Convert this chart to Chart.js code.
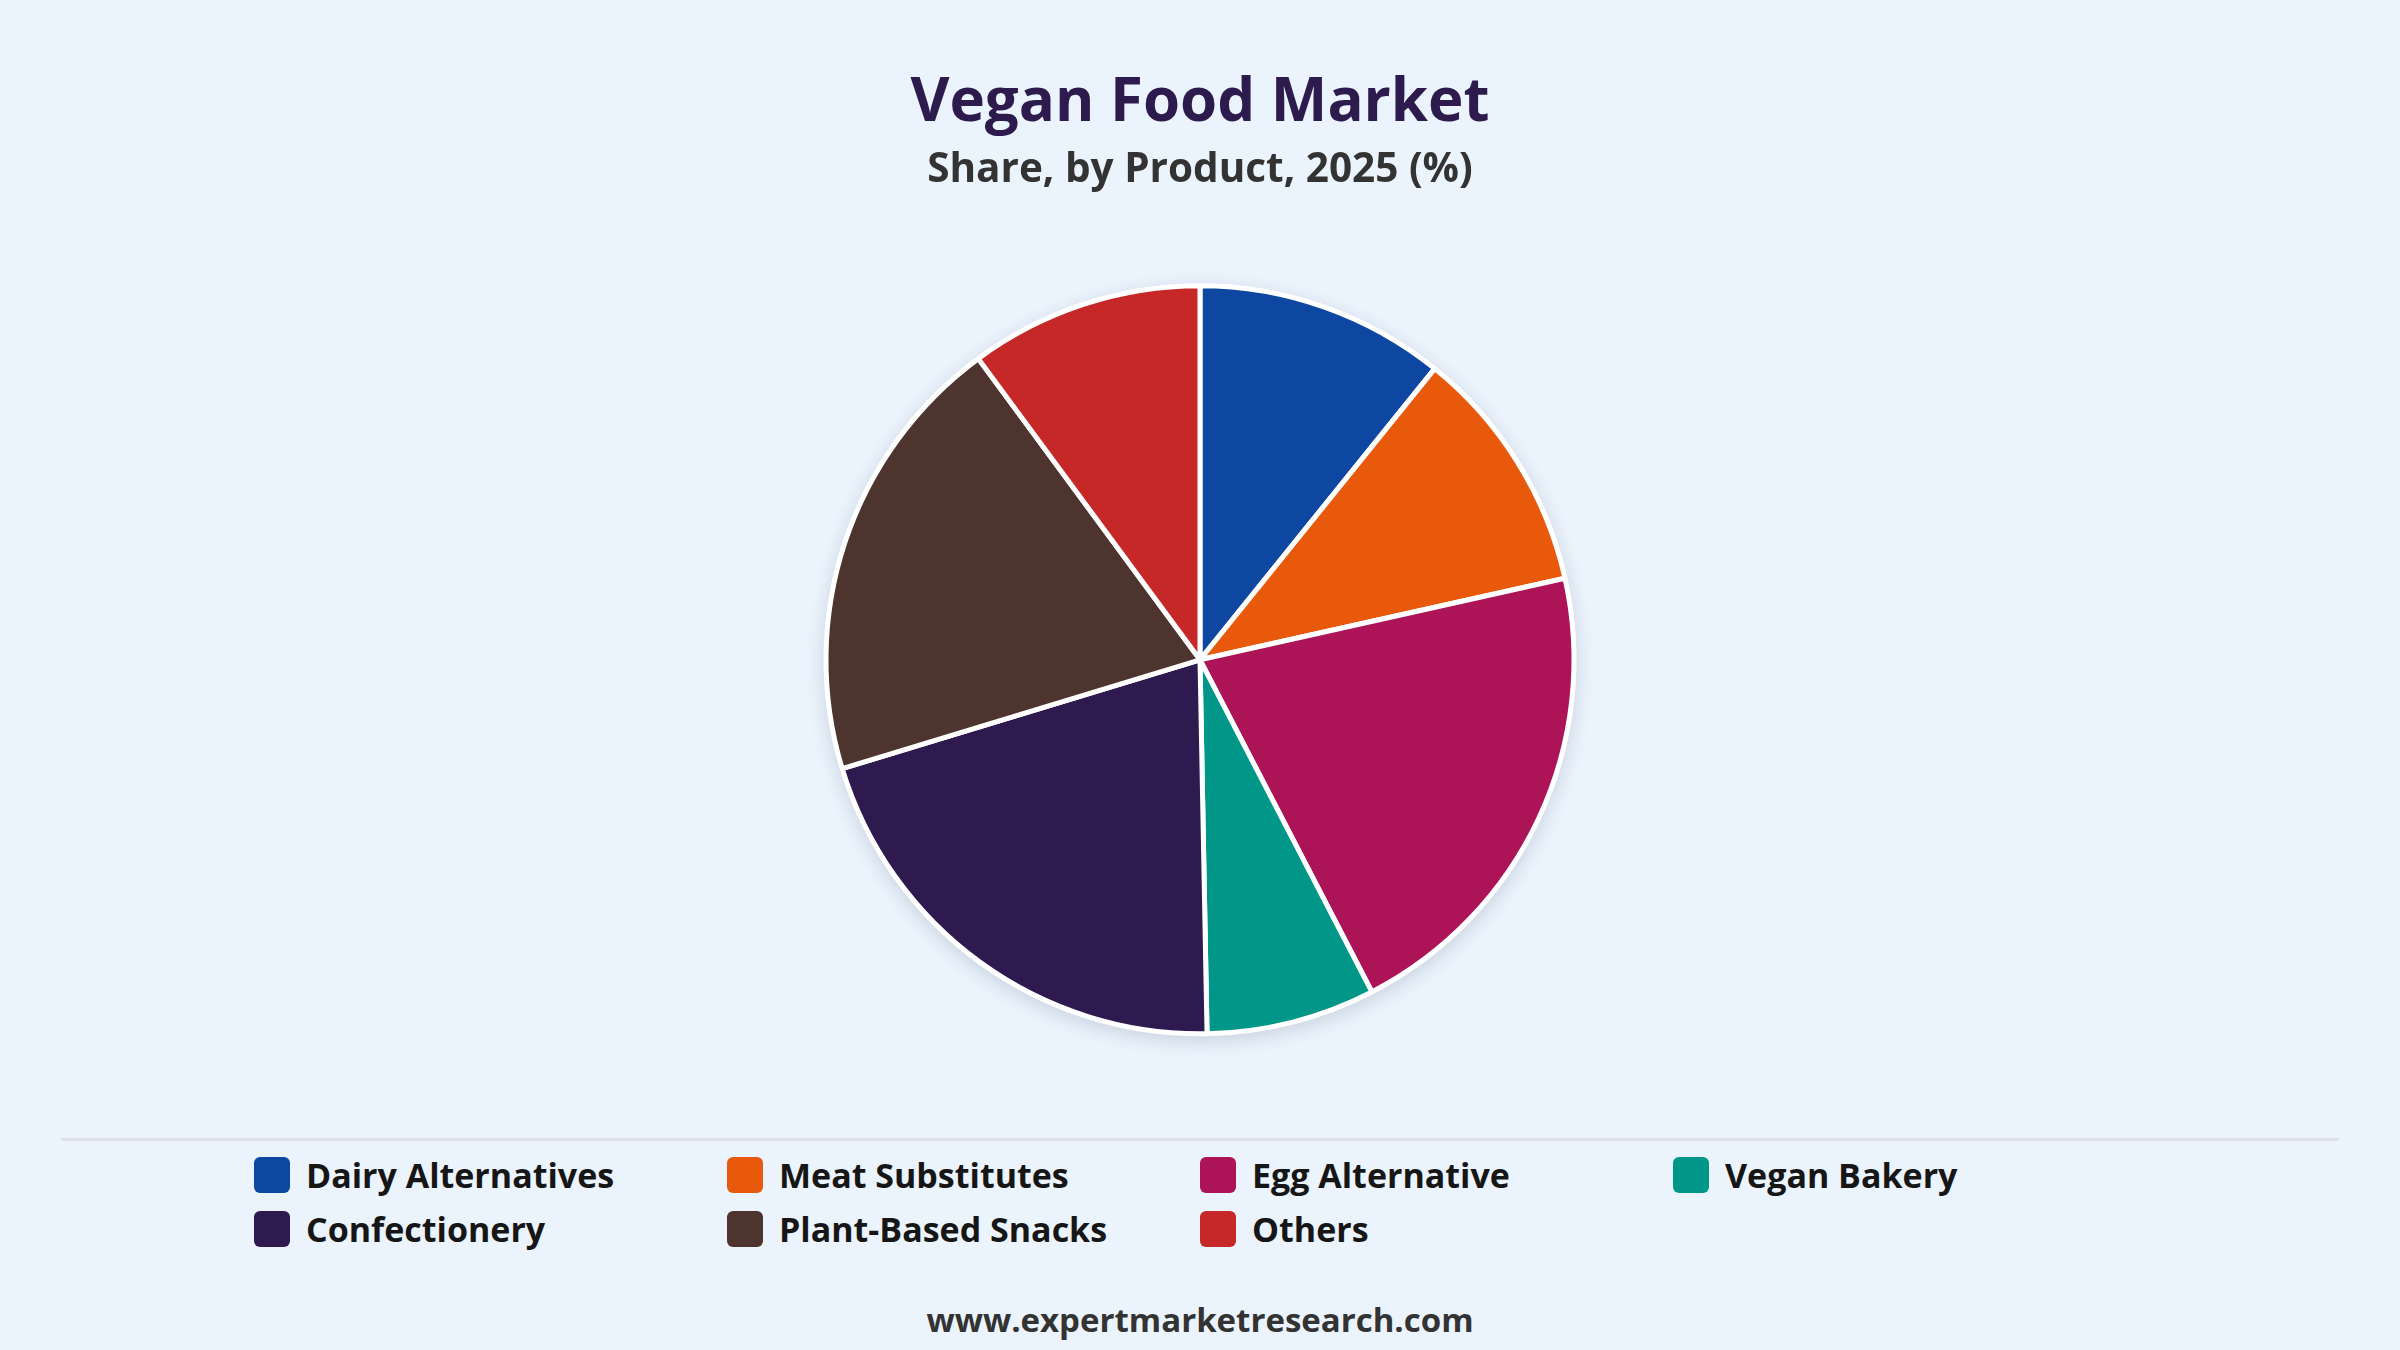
<!DOCTYPE html>
<html>
<head>
<meta charset="utf-8">
<title>Vegan Food Market</title>
<script src="https://cdn.jsdelivr.net/npm/chart.js@4.4.1/dist/chart.umd.min.js"></script>
<style>
  html, body {
    margin: 0;
    padding: 0;
    background: #ebf3fc;
    font-family: "Open Sans", "Noto Sans", sans-serif;
  }
  #page {
    position: relative;
    width: 2400px;
    height: 1350px;
    overflow: hidden;
  }
  #chartBox {
    position: absolute;
    left: 0;
    top: 0;
    width: 2400px;
    height: 1130px;
  }
  #divider {
    position: absolute;
    left: 61px;
    top: 1138px;
    width: 2278px;
    height: 3px;
    background: #dde2e8;
  }
  #legend {
    position: absolute;
    left: 254px;
    top: 1148px;
    display: grid;
    grid-template-columns: repeat(4, 473px);
    grid-auto-rows: 54px;
  }
  .item {
    display: flex;
    align-items: center;
    font-weight: 700;
    font-size: 34px;
    color: #161616;
  }
  .swatch {
    width: 36px;
    height: 36px;
    border-radius: 6px;
    margin-right: 16px;
    flex: none;
  }
  #footer {
    position: absolute;
    left: 0;
    width: 2400px;
    top: 1297px;
    text-align: center;
    font-weight: 700;
    font-size: 33px;
    color: #333333;
  }
</style>
</head>
<body>
<div id="page">
  <div id="chartBox"><canvas id="veganChart"></canvas></div>
  <div id="divider"></div>
  <div id="legend"></div>
  <div id="footer">www.expertmarketresearch.com</div>
</div>
<script>
const products = [
  "Dairy Alternatives",
  "Meat Substitutes",
  "Egg Alternative",
  "Vegan Bakery",
  "Confectionery",
  "Plant-Based Snacks",
  "Others",
];
const shares = [10.8, 10.7, 20.9, 7.3, 20.6, 19.6, 10.1];
const sliceColors = [
  "#0d47a1",
  "#e8590c",
  "#ad1457",
  "#009688",
  "#2e1a4f",
  "#4e342e",
  "#c62828",
];

// soft shadow behind the whole pie, drawn before the slices
const pieShadow = {
  id: "pieShadow",
  beforeDatasetsDraw(chart) {
    const arc = chart.getDatasetMeta(0).data[0];
    if (!arc) return;
    const ctx = chart.ctx;
    ctx.save();
    ctx.shadowColor = "rgba(40, 60, 90, 0.18)";
    ctx.shadowBlur = 18;
    ctx.shadowOffsetY = 5;
    ctx.fillStyle = "#ffffff";
    ctx.beginPath();
    ctx.arc(arc.x, arc.y, arc.outerRadius + 2, 0, Math.PI * 2);
    ctx.fill();
    ctx.restore();
  },
};

const ctx = document.getElementById("veganChart").getContext("2d");
const veganChart = new Chart(ctx, {
  type: "pie",
  data: {
    labels: products,
    datasets: [
      {
        data: shares,
        backgroundColor: sliceColors,
        borderColor: "#ffffff",
        borderWidth: 5,
        hoverOffset: 0,
      },
    ],
  },
  options: {
    responsive: true,
    maintainAspectRatio: false,
    devicePixelRatio: 1,
    animation: false,
    radius: 374,
    layout: {
      padding: { top: 0, bottom: 16 },
    },
    plugins: {
      legend: { display: false },
      tooltip: { enabled: false },
      title: {
        display: true,
        text: "Vegan Food Market",
        color: "#2d1b4e",
        font: { family: "Open Sans", size: 60, weight: "bold" },
        padding: { top: 68, bottom: 6 },
      },
      subtitle: {
        display: true,
        text: "Share, by Product, 2025 (%)",
        color: "#333333",
        font: { family: "Open Sans", size: 40.5, weight: "bold" },
        padding: { top: 0, bottom: 11 },
      },
    },
  },
  plugins: [pieShadow],
});

// legend grid built from the chart's own labels and colours
const legendBox = document.getElementById("legend");
veganChart.data.labels.forEach(function (label, i) {
  const item = document.createElement("div");
  item.className = "item";
  const sw = document.createElement("span");
  sw.className = "swatch";
  sw.style.background = veganChart.data.datasets[0].backgroundColor[i];
  const txt = document.createElement("span");
  txt.textContent = label;
  item.appendChild(sw);
  item.appendChild(txt);
  legendBox.appendChild(item);
});
</script>
</body>
</html>
